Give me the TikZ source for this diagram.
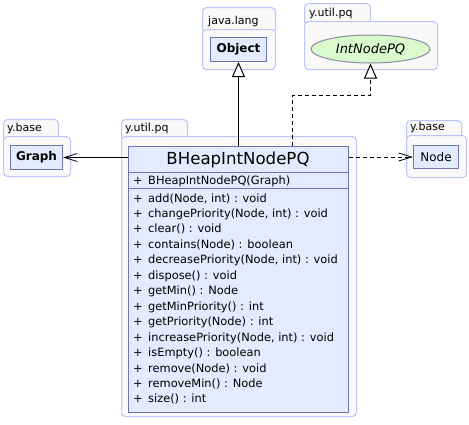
\documentclass[tikz,border=0pt]{standalone}
\usepackage{fontspec}
\setmainfont{DejaVu Sans}
\usetikzlibrary{positioning,arrows.meta,shapes.geometric}

\definecolor{pkgline}{RGB}{188,198,246}
\definecolor{pkgfill}{RGB}{249,249,249}
\definecolor{clsline}{RGB}{112,116,172}
\definecolor{clsfill}{RGB}{226,236,254}
\definecolor{ifcfill}{RGB}{218,250,205}
\definecolor{ifcline}{RGB}{140,140,165}

\begin{document}
\begin{tikzpicture}[x=1pt, y=-1pt,
  pkg/.style={draw=pkgline, fill=pkgfill, line width=1pt, rounded corners=4pt, anchor=north west, inner sep=0pt},
  pkglabel/.style={anchor=base west, inner sep=0pt, font=\fontsize{11}{13}\selectfont},
  box/.style={draw=clsline, fill=clsfill, line width=1pt, anchor=north west, inner sep=0pt, font=\fontsize{12}{14}\selectfont},
  member/.style={anchor=base west, inner sep=0pt, font=\fontsize{11.4}{13}\selectfont},
  inherit/.style={line width=1pt, -{Triangle[fill=white, length=15pt, width=13pt, line width=1pt]}},
  assoc/.style={line width=1pt, -{Straight Barb[length=13pt, width=8pt, line width=0.8pt]}},
  depend/.style={assoc, dash pattern=on 4pt off 3pt}
]
\useasboundingbox (0,0) rectangle (469,424);

% packages
\node[pkg, minimum width=73, minimum height=26] (jlang-tab) at (202,7) {};
\node[pkg, minimum width=73, minimum height=40] (jlang) at (202,29) {};
\node[pkglabel] (jlang-l) at ([shift={(6,-5)}]jlang-tab.south west |- jlang.north) {java.lang};

\node[pkg, minimum width=66, minimum height=22] (pq1-tab) at (304,3) {};
\node[pkg, minimum width=133, minimum height=48] (pq1) at (304,21) {};
\node[pkglabel] (pq1-l) at ([shift={(5,-5)}]pq1.north west) {y.util.pq};

\node[pkg, minimum width=55, minimum height=21] (base1-tab) at (3,119) {};
\node[pkg, minimum width=67, minimum height=40] (base1) at (3,136) {};
\node[pkglabel] (base1-l) at ([shift={(4,-5)}]base1.north west) {y.base};

\node[pkg, minimum width=66, minimum height=21] (pq2-tab) at (121,119) {};
\node[pkg, minimum width=235, minimum height=280] (pq2) at (121,136) {};
\node[pkglabel] (pq2-l) at ([shift={(4,-5)}]pq2.north west) {y.util.pq};

\node[pkg, minimum width=55, minimum height=20] (base2-tab) at (406,120) {};
\node[pkg, minimum width=60, minimum height=42] (base2) at (406,135) {};
\node[pkglabel] (base2-l) at ([shift={(4,-5)}]base2.north west) {y.base};

% classes
\node[box, minimum width=56, minimum height=24, font=\fontsize{12}{14}\selectfont\bfseries] (object) at (210,37) {Object};
\node[box, minimum width=52, minimum height=24, font=\fontsize{12}{14}\selectfont\bfseries] (graph) at (10,145) {Graph};
\node[box, minimum width=45, minimum height=23] (node) at (413,145) {Node};
\node[ellipse, draw=ifcline, fill=ifcfill, line width=1pt, minimum width=119, minimum height=28, inner sep=0pt,
  font=\fontsize{13}{15}\selectfont\itshape] (intpq) at (370.5,49) {IntNodePQ};

\node[box, minimum width=220, minimum height=266] (bheap) at (128,146) {};
\draw[clsline, line width=1pt] (bheap.west |- 0,172) -- (bheap.east |- 0,172);
\draw[clsline, line width=1pt] (bheap.west |- 0,188) -- (bheap.east |- 0,188);
\node[anchor=base, inner sep=0pt, font=\fontsize{16.6}{19}\selectfont] (bheap-name) at (238,164) {BHeapIntNodePQ};
\node[member] (ctor) at (133,184) {\makebox[15pt][l]{+}BHeapIntNodePQ(Graph)};
\foreach \m [count=\i from 0] in {{add(Node, int) : void}, {changePriority(Node, int) : void}, {clear() : void},
  {contains(Node) : boolean}, {decreasePriority(Node, int) : void}, {dispose() : void}, {getMin() : Node},
  {getMinPriority() : int}, {getPriority(Node) : int}, {increasePriority(Node, int) : void},
  {isEmpty() : boolean}, {remove(Node) : void}, {removeMin() : Node}, {size() : int}}
  \node[member] (op\i) at (133,202+\i*15.46) {\makebox[15pt][l]{+}\m};

% connectors
\draw[inherit] (bheap.north) -- (object.south);
\draw[inherit, dash pattern=on 4pt off 3pt] ([xshift=54pt]bheap.north) -- ++(0,-51) -| (intpq.south);
\draw[assoc] (bheap.west |- graph.east) -- (graph.east);
\draw[depend] (bheap.east |- node.west) -- (node.west);
\end{tikzpicture}
\end{document}
